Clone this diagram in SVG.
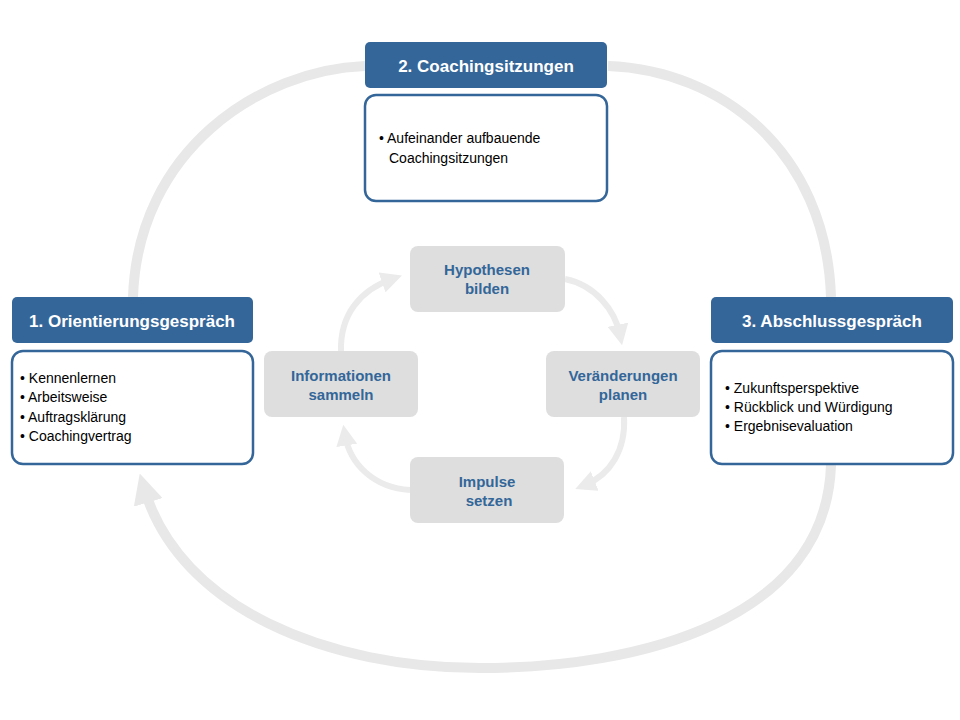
<svg xmlns="http://www.w3.org/2000/svg" width="960" height="720" viewBox="0 0 960 720">
<defs>
<style>
.ring{fill:none;stroke:#e8e8e8;stroke-width:10}
.inner{fill:none;stroke:#ebebeb;stroke-width:6}
.hdr{fill:#356699}
.body{fill:#fff;stroke:#356699;stroke-width:2.5}
.step{fill:#dedede}
.ht{font-family:"Liberation Sans",Arial,sans-serif;font-size:17px;font-weight:bold;fill:#fff;text-anchor:middle}
.bt{font-family:"Liberation Sans",Arial,sans-serif;font-size:14px;fill:#000}
.st{font-family:"Liberation Sans",Arial,sans-serif;font-size:15px;font-weight:bold;fill:#336699;text-anchor:middle}
</style>
<marker id="big" viewBox="0 0 10 10" refX="5" refY="5" markerWidth="3" markerHeight="3" orient="auto" markerUnits="strokeWidth"><path d="M0,0 L10,5 L0,10 z" fill="#e8e8e8"/></marker>
<marker id="sm" viewBox="0 0 10 10" refX="5" refY="5" markerWidth="3.5" markerHeight="3.5" orient="auto" markerUnits="strokeWidth"><path d="M0,0 L10,5 L0,10 z" fill="#ebebeb"/></marker>
</defs>
<rect width="960" height="720" fill="#fff"/>
<g id="connectors">
<path class="ring" d="M133,297 C138,150 260,70 365,66"/>
<path class="ring" d="M608,66 C720,70 826,150 831,297"/>
<path class="ring" d="M831,465 C826,620 640,668 480,668 C330,668 180,610 144,488" marker-end="url(#big)"/>
<path class="inner" d="M565,279 C595,285 615,310 620,335" marker-end="url(#sm)"/>
<path class="inner" d="M624,417 C626,450 610,475 585,485" marker-end="url(#sm)"/>
<path class="inner" d="M410,490 C375,488 350,465 345,435" marker-end="url(#sm)"/>
<path class="inner" d="M341,351 C340,315 360,290 392,279" marker-end="url(#sm)"/>
</g>
<g id="n2">
<rect class="hdr" x="365" y="42" width="242" height="46" rx="5"/>
<text class="ht" x="486" y="72">2. Coachingsitzungen</text>
<rect class="body" x="365" y="95" width="242" height="106" rx="11"/>
<text class="bt" x="379" y="143">• Aufeinander aufbauende</text>
<text class="bt" x="389" y="163">Coachingsitzungen</text>
</g>
<g id="n1">
<rect class="hdr" x="12" y="297" width="241" height="46" rx="5"/>
<text class="ht" x="132" y="327">1. Orientierungsgespräch</text>
<rect class="body" x="12" y="351" width="241" height="113" rx="11"/>
<text class="bt" x="20" y="383">• Kennenlernen</text>
<text class="bt" x="20" y="402">• Arbeitsweise</text>
<text class="bt" x="20" y="422">• Auftragsklärung</text>
<text class="bt" x="20" y="441">• Coachingvertrag</text>
</g>
<g id="n3">
<rect class="hdr" x="711" y="297" width="242" height="46" rx="5"/>
<text class="ht" x="832" y="327">3. Abschlussgespräch</text>
<rect class="body" x="711" y="351" width="242" height="113" rx="11"/>
<text class="bt" x="725" y="393">• Zukunftsperspektive</text>
<text class="bt" x="725" y="412">• Rückblick und Würdigung</text>
<text class="bt" x="725" y="431">• Ergebnisevaluation</text>
</g>
<g id="s1"><rect class="step" x="410" y="246" width="155" height="66" rx="8"/><text class="st" x="487" y="275">Hypothesen</text><text class="st" x="487" y="294">bilden</text></g>
<g id="s2"><rect class="step" x="546" y="351" width="154" height="66" rx="8"/><text class="st" x="623" y="381">Veränderungen</text><text class="st" x="623" y="400">planen</text></g>
<g id="s3"><rect class="step" x="410" y="457" width="154" height="66" rx="8"/><text class="st" x="487" y="487">Impulse</text><text class="st" x="489" y="506">setzen</text></g>
<g id="s4"><rect class="step" x="264" y="351" width="154" height="66" rx="8"/><text class="st" x="341" y="381">Informationen</text><text class="st" x="341" y="400">sammeln</text></g>
</svg>
